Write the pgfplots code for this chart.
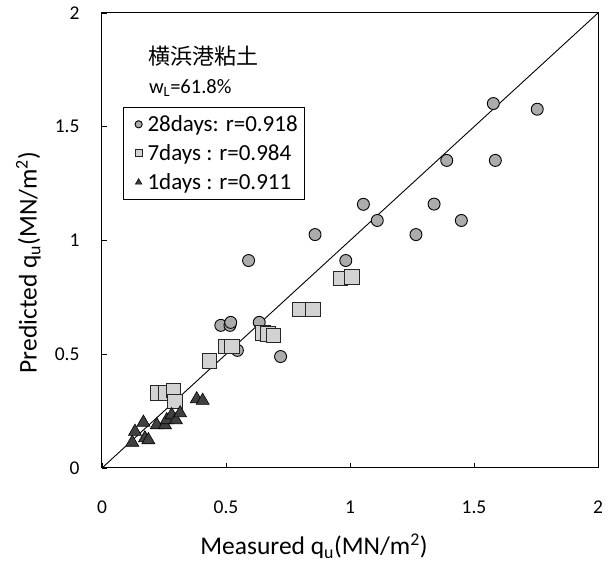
\documentclass[border=0pt]{standalone}
\usepackage{pgfplots}
\pgfplotsset{compat=1.18}
\usepackage{fontspec}
\setmainfont{Carlito}
\newfontfamily\cjk{Noto Sans CJK JP}
\begin{document}
\begin{tikzpicture}
\begin{axis}[
  scale only axis,
  width=496pt, height=455pt,
  xmin=0, xmax=2, ymin=0, ymax=2,
  xtick={0,0.5,1,1.5,2}, ytick={0,0.5,1,1.5,2},
  xticklabels={0,0.5,1,1.5,2}, yticklabels={0,0.5,1,1.5,2},
  tick pos=left, tick align=inside, major tick length=5pt,
  axis line style={line width=1pt},
  tick style={line width=0.8pt, black},
  ticklabel style={font=\fontsize{19.5}{22}\selectfont},
  xticklabel style={yshift=-29pt},
  yticklabel style={xshift=-19pt},
  xlabel={Measured q\textsubscript{u}(MN/m\textsuperscript{2})},
  ylabel={Predicted q\textsubscript{u}(MN/m\textsuperscript{2})},
  label style={font=\fontsize{25.5}{28}\selectfont},
  xlabel style={at={(axis description cs:0.4274,-0.19)}, anchor=base},
  ylabel style={at={(axis description cs:-0.1317,0.4516)}, anchor=base},
  legend cell align=left,
  legend image code/.code={\path (0pt,0pt) (17pt,0pt); \draw[#1, mark size=3.6pt] plot coordinates {(10pt,0pt)};},
  legend style={at={(0.042,0.793)}, anchor=north west, draw=black, line width=0.8pt,
    font=\fontsize{23}{26}\selectfont, row sep=9.5pt, inner xsep=5pt, inner ysep=7pt,
    nodes={inner xsep=1.5pt, inner ysep=1pt},
    /tikz/every odd column/.append style={column sep=0pt}},
]
\addplot[black, line width=0.9pt, forget plot] coordinates {(0,0) (2,2)};
\addplot[only marks, mark=*, mark size=6pt, mark options={fill=gray!65, draw=black, line width=0.9pt}] coordinates {
(0.591,0.912) (0.983,0.912) (0.479,0.627) (0.516,0.627) (0.519,0.640) (0.634,0.640)
(0.546,0.517) (0.720,0.490) (0.859,1.026) (1.054,1.159) (1.110,1.088) (1.266,1.026)
(1.339,1.160) (1.449,1.088) (1.390,1.352) (1.586,1.352) (1.578,1.602) (1.755,1.577)};
\addlegendentry{28days: r=0.918}
\addplot[only marks, mark=square*, mark size=7.3pt, mark options={fill=gray!35, draw=black!85, line width=0.9pt}] coordinates {
(0.223,0.329) (0.257,0.329) (0.288,0.341) (0.294,0.292) (0.433,0.471) (0.499,0.534)
(0.523,0.534) (0.648,0.593) (0.669,0.590) (0.691,0.583) (0.798,0.697) (0.850,0.697)
(0.962,0.834) (1.008,0.840)};
\addlegendentry{7days : r=0.984}
\addplot[only marks, mark=triangle*, mark size=7.5pt, mark options={fill=black!75, draw=black, line width=0.6pt}] coordinates {
(0.122,0.112) (0.133,0.160) (0.167,0.200) (0.173,0.131) (0.187,0.123) (0.221,0.189)
(0.254,0.189) (0.261,0.211) (0.281,0.233) (0.298,0.211) (0.315,0.241) (0.382,0.303)
(0.406,0.296)};
\addlegendentry{1days : r=0.911}
\node[anchor=west, inner sep=0pt] at (axis cs:0.185,1.812) {\cjk\fontsize{22}{26}\selectfont 横浜港粘土};
\node[anchor=base west, inner sep=0pt] at (axis cs:0.189,1.648) {\fontsize{20.5}{24}\selectfont w\textsubscript{L}=61.8\%};
\end{axis}
\pgfresetboundingbox
\path (current axis.south west) ++(-102pt,-94pt) coordinate (bl);
\path (current axis.north east) ++(13pt,13pt) coordinate (tr);
\path (bl) rectangle (tr);
\end{tikzpicture}
\end{document}
